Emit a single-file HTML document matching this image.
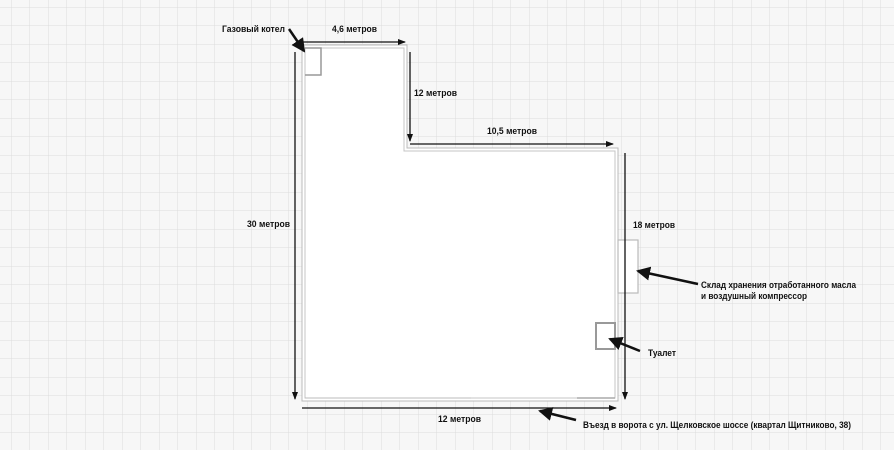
<!DOCTYPE html>
<html><head><meta charset="utf-8"><style>
html,body{margin:0;padding:0;width:894px;height:450px;overflow:hidden;background:#f7f7f7}
</style></head><body>
<svg width="894" height="450" viewBox="0 0 894 450" xmlns="http://www.w3.org/2000/svg" font-family="Liberation Sans, DejaVu Sans, sans-serif" font-weight="bold" font-size="9">
<defs>
<pattern id="g" width="18.5" height="18.5" patternUnits="userSpaceOnUse" x="11" y="7">
<path d="M0 0H18.5M0 0V18.5" stroke="#dcdcdc" stroke-width="1" fill="none"/>
</pattern>
<marker id="a" markerWidth="8" markerHeight="8" refX="7" refY="4" orient="auto" markerUnits="userSpaceOnUse"><path d="M0,1 L8,4 L0,7z" fill="#111"/></marker>
<marker id="b" markerWidth="14" markerHeight="14" refX="12" refY="7" orient="auto" markerUnits="userSpaceOnUse"><path d="M0,0 L14,7 L0,14z" fill="#111"/></marker>
</defs>
<rect width="894" height="450" fill="#f7f7f7"/>
<rect width="894" height="450" fill="url(#g)"/>
<path d="M302,45 H407 V148 H618 V401 H302Z" fill="#fff" stroke="#bbb" stroke-width="1"/>
<path d="M305,48 H404 V151 H615 V398 H305Z" fill="#fff" stroke="#c4c4c4" stroke-width="1"/>
<path d="M305,48 H321 V75 H305" fill="none" stroke="#999" stroke-width="1.5"/>
<rect x="618" y="240" width="20" height="53" fill="#fff" stroke="#bbb" stroke-width="1.2"/>
<rect x="596" y="323" width="19" height="26" fill="#fff" stroke="#999" stroke-width="2"/>
<line x1="305" y1="398" x2="471" y2="398" stroke="#bbb" stroke-width="1"/>
<line x1="577" y1="398" x2="615" y2="398" stroke="#aaa" stroke-width="1.5"/>
<g stroke="#111" stroke-width="1.3" fill="none">
<line x1="303" y1="42" x2="405" y2="42" marker-end="url(#a)"/>
<line x1="410" y1="52" x2="410" y2="141" marker-end="url(#a)"/>
<line x1="410" y1="144" x2="613" y2="144" marker-end="url(#a)"/>
<line x1="625" y1="153" x2="625" y2="399" marker-end="url(#a)"/>
<line x1="295" y1="52" x2="295" y2="399" marker-end="url(#a)"/>
<line x1="302" y1="408" x2="616" y2="408" marker-end="url(#a)"/>
</g>
<g stroke="#111" stroke-width="2.5" fill="none">
<line x1="289" y1="29" x2="304" y2="51" marker-end="url(#b)"/>
<line x1="698" y1="284" x2="638" y2="271" marker-end="url(#b)"/>
<line x1="640" y1="351" x2="610" y2="339" marker-end="url(#b)"/>
<line x1="576" y1="420" x2="540" y2="411" marker-end="url(#b)"/>
</g>
<g fill="#111">
<text x="222" y="32" textLength="63" lengthAdjust="spacingAndGlyphs">Газовый котел</text>
<text x="332" y="32" textLength="45" lengthAdjust="spacingAndGlyphs">4,6 метров</text>
<text x="414" y="96" textLength="43" lengthAdjust="spacingAndGlyphs">12 метров</text>
<text x="487" y="134" textLength="50" lengthAdjust="spacingAndGlyphs">10,5 метров</text>
<text x="633" y="228" textLength="42" lengthAdjust="spacingAndGlyphs">18 метров</text>
<text x="247" y="227" textLength="43" lengthAdjust="spacingAndGlyphs">30 метров</text>
<text x="438" y="422" textLength="43" lengthAdjust="spacingAndGlyphs">12 метров</text>
<text x="701" y="288" textLength="155" lengthAdjust="spacingAndGlyphs">Склад хранения отработанного масла</text>
<text x="701" y="299" textLength="106" lengthAdjust="spacingAndGlyphs">и воздушный компрессор</text>
<text x="648" y="356" textLength="28" lengthAdjust="spacingAndGlyphs">Туалет</text>
<text x="583" y="428" textLength="268" lengthAdjust="spacingAndGlyphs">Въезд в ворота с ул. Щелковское шоссе (квартал Щитниково, 38)</text>
</g>
</svg>
</body></html>
